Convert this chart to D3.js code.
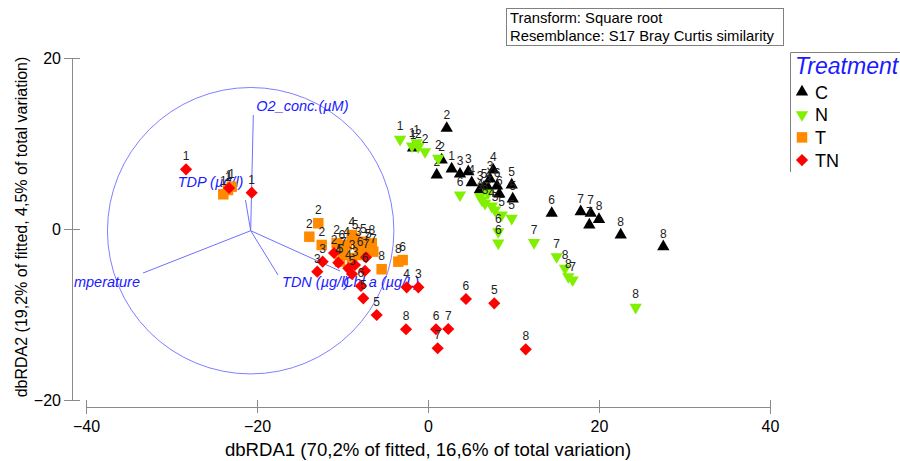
<!DOCTYPE html>
<html>
<head>
<meta charset="utf-8">
<script src="https://cdn.jsdelivr.net/npm/d3@7"></script>
<style>
  html, body { margin: 0; padding: 0; background: #fff; }
  svg { display: block; font-family: Arial, "Liberation Sans", sans-serif; }
</style>
</head>
<body>
<svg id="chart" width="900" height="461"></svg>
<script>
// dbRDA ordination: sample scores per treatment as [dbRDA1, dbRDA2, sampling time]
const treatments = ["C", "N", "T", "TN"];

const pointsC = [
  [2.19, 11.78, "2"], [1.02, 6.32, "2"], [1.60, 8.07, "2"], [2.77, 7.02, "1"],
  [3.74, 6.43, "3"], [4.71, 6.70, "3"], [5.11, 5.42, "4"], [6.08, 4.64, "3"],
  [7.05, 4.76, "4"], [7.64, 6.90, "4"], [7.25, 5.85, "3"], [9.79, 5.15, "5"],
  [9.91, 3.51, "5"], [8.34, 4.09, "6"], [14.47, 1.84, "6"], [17.86, 2.02, "7"],
  [19.03, 1.84, "7"], [18.87, 0.47, "7"], [20.00, 1.13, "8"], [22.54, -0.70, "8"],
  [27.52, -2.07, "8"], [-1.75, 9.47, "1"], [6.55, 4.91, "5"], [8.07, 5.03, "6"]
];

const pointsN = [
  [-3.27, 10.49, "1"], [-1.32, 10.09, "1"], [-1.13, 9.63, "2"], [-0.35, 9.04, "2"],
  [1.20, 8.27, "2"], [3.74, 3.98, "6"], [6.08, 3.78, "4"], [6.67, 3.01, "3"],
  [7.45, 2.69, "4"], [7.84, 2.22, "5"], [8.62, 1.64, "5"], [9.79, 1.25, "5"],
  [8.22, -0.32, "6"], [8.22, -1.64, "6"], [12.40, -1.60, "7"], [15.05, -3.24, "7"],
  [16.02, -4.60, "8"], [16.41, -5.58, "8"], [16.92, -5.96, "7"], [24.29, -9.16, "8"],
  [7.02, 4.21, "3"], [-1.87, 9.71, "1"], [6.32, 3.39, "4"]
];

const pointsT = [
  [-23.94, 4.06, "1"], [-22.96, 4.95, "1"], [-23.39, 4.56, "1"],
  [-12.83, 0.67, "2"], [-13.88, -0.90, "2"], [-12.43, -1.87, "2"],
  [-10.68, -1.67, "2"], [-10.09, -2.26, "6"], [-9.51, -1.87, "4"], [-8.92, -0.70, "4"],
  [-8.54, -1.09, "5"], [-8.15, -1.87, "3"], [-7.57, -1.49, "5"], [-6.98, -2.07, "5"],
  [-6.58, -1.67, "8"], [-7.17, -2.46, "7"], [-6.40, -2.65, "7"], [-9.91, -3.04, "7"],
  [-10.29, -3.82, "5"], [-5.42, -4.71, "8"], [-3.47, -3.82, "8"], [-2.96, -3.63, "6"],
  [-8.89, -3.39, "3"], [-7.95, -3.04, "6"]
];

const pointsTN = [
  [-28.30, 6.98, "1"], [-20.62, 4.25, "1"], [-23.27, 4.80, "1"],
  [-12.32, -3.82, "3"], [-12.95, -4.99, "3"], [-10.49, -3.94, "4"], [-9.32, -4.60, "4"],
  [-7.25, -3.31, "7"], [-7.37, -4.88, "6"], [-7.84, -6.67, "6"], [-7.57, -8.11, "5"],
  [-6.00, -10.06, "5"], [-2.49, -6.82, "4"], [-1.13, -6.82, "3"], [-2.57, -11.73, "8"],
  [0.94, -11.73, "6"], [2.37, -11.70, "7"], [1.13, -13.95, "7"], [4.44, -8.19, "6"],
  [7.75, -8.69, "5"], [11.43, -14.07, "8"], [-10.99, -2.81, "2"], [-8.54, -4.21, "3"],
  [-8.89, -5.26, "5"]
];

// Predictor vectors (end points in ordination units) and the unit circle
const vectorNames = ["O2_conc.(µM)", "TDP (µg/l)", "Temperature", "TDN (µg/l)", "Chl a (µg/L)"];
const vectorEnds = [[-20.43, 13.33], [-21.35, 3.39], [-33.33, -5.15], [-17.54, -5.38], [-10.29, -4.91]];
const vectorOrigin = [-20.74, -0.20];
const circleRadius = 16.75;

const xTicks = [-40, -20, 0, 20, 40];
const yTicks = [-20, 0, 20];
const xTitle = "dbRDA1 (70,2% of fitted, 16,6% of total variation)";
const yTitle = "dbRDA2 (19,2% of fitted, 4,5% of total variation)";
const infoLines = ["Transform: Square root", "Resemblance: S17 Bray Curtis similarity"];
const legendTitle = "Treatment";

// ---- drawing ----
const svg = d3.select("#chart");
const x = d3.scaleLinear().domain([-40, 40]).range([86, 770]);
const y = d3.scaleLinear().domain([-20, 20]).range([400, 58]);
const axisColor = "#8a8a8a";
const fontFamily = "Arial, 'Liberation Sans', sans-serif";

const styles = {
  C:  { fill: "#000000", type: d3.symbolTriangle, size: 66, rotate: 0 },
  N:  { fill: "#80f000", type: d3.symbolTriangle, size: 66, rotate: 180 },
  T:  { fill: "#ff8a00", type: d3.symbolSquare,   size: 110, rotate: 0 },
  TN: { fill: "#ff0000", type: d3.symbolSquare,   size: 74, rotate: 45 }
};
const seriesData = { C: pointsC, N: pointsN, T: pointsT, TN: pointsTN };

svg.append("defs").append("clipPath").attr("id", "plotClip")
  .append("rect").attr("x", 74).attr("y", 0).attr("width", 826).attr("height", 461);

// vectors and circle
const vec = svg.append("g").attr("clip-path", "url(#plotClip)");
const pxPerUnit = x(1) - x(0);
vec.append("circle")
  .attr("cx", x(vectorOrigin[0])).attr("cy", y(vectorOrigin[1]))
  .attr("r", circleRadius * pxPerUnit)
  .attr("fill", "none").attr("stroke", "#7f7fff").attr("stroke-width", 1);

const labelOffsets = [[3, -4, "start"], [-2, -13, "end"], [-3, 14, "end"], [4, 12, "start"], [3, 16, "start"]];
vectorEnds.forEach(e => {
  vec.append("line")
    .attr("x1", x(vectorOrigin[0])).attr("y1", y(vectorOrigin[1]))
    .attr("x2", x(e[0])).attr("y2", y(e[1]))
    .attr("stroke", "#6f6fff").attr("stroke-width", 1);
});

// axes
const gx = svg.append("g").attr("transform", "translate(0,407)")
  .call(d3.axisBottom(x).tickValues(xTicks).tickSizeOuter(0).tickSize(7).tickPadding(6.6).tickFormat(d3.format("d")));
gx.select(".domain").attr("stroke", axisColor);
gx.selectAll(".tick line").attr("y1", -7).attr("y2", 6).attr("stroke", axisColor);
gx.selectAll(".tick text").attr("font-size", 16).attr("fill", "#000").attr("font-family", fontFamily);

const gy = svg.append("g").attr("transform", "translate(72,0)")
  .call(d3.axisLeft(y).tickValues(yTicks).tickSizeOuter(0).tickSize(8).tickPadding(3).tickFormat(d3.format("d")));
gy.select(".domain").attr("stroke", axisColor);
gy.selectAll(".tick line").attr("x1", -8).attr("x2", 8).attr("stroke", axisColor);
gy.selectAll(".tick text").attr("font-size", 16).attr("fill", "#000").attr("font-family", fontFamily);

svg.append("text").attr("x", 428).attr("y", 456).attr("text-anchor", "middle")
  .attr("font-size", 18.6).text(xTitle);
svg.append("text").attr("transform", "translate(27,227) rotate(-90)").attr("text-anchor", "middle")
  .attr("font-size", 16).text(yTitle);

// points with sampling-time labels
const pts = svg.append("g").attr("clip-path", "url(#plotClip)");
treatments.forEach(k => {
  const st = styles[k];
  const g = pts.append("g");
  g.selectAll("path").data(seriesData[k]).join("path")
    .attr("d", d3.symbol().type(st.type).size(st.size))
    .attr("transform", d => `translate(${x(d[0])},${y(d[1])}) rotate(${st.rotate})`)
    .attr("fill", st.fill);
  g.selectAll("text").data(seriesData[k]).join("text")
    .attr("x", d => x(d[0])).attr("y", d => y(d[1]) - 9)
    .attr("text-anchor", "middle").attr("font-size", 12).attr("fill", "#222")
    .text(d => d[2]);
});

// vector labels on top
vectorEnds.forEach((e, i) => {
  vec.append("text")
    .attr("x", x(e[0]) + labelOffsets[i][0]).attr("y", y(e[1]) + labelOffsets[i][1])
    .attr("text-anchor", labelOffsets[i][2])
    .attr("font-size", 14.5).attr("font-style", "italic").attr("fill", "#1a1aff")
    .text(vectorNames[i]);
});

// info box
svg.append("rect").attr("x", 506.5).attr("y", 8.5).attr("width", 277).attr("height", 37)
  .attr("fill", "#fff").attr("stroke", "#808080");
infoLines.forEach((t, i) => {
  svg.append("text").attr("x", 510).attr("y", 23 + i * 18).attr("font-size", 14.8).text(t);
});

// legend
const lg = svg.append("g");
lg.append("path").attr("d", "M905,52.5 H790.5 V172").attr("fill", "none").attr("stroke", "#808080");
lg.append("text").attr("x", 795).attr("y", 74).attr("font-size", 23).attr("font-style", "italic")
  .attr("fill", "#1a1aff").text(legendTitle);
treatments.forEach((k, i) => {
  const st = styles[k];
  const cy = 92 + i * 22.7;
  lg.append("path").attr("d", d3.symbol().type(st.type).size(st.size))
    .attr("transform", `translate(802,${cy}) rotate(${st.rotate})`).attr("fill", st.fill);
  lg.append("text").attr("x", 815).attr("y", cy + 6.5).attr("font-size", 18).text(k);
});
</script>
</body>
</html>
